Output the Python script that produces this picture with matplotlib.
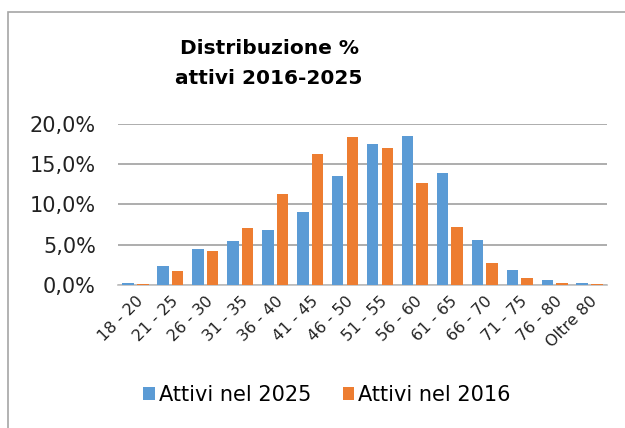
import numpy as np
import matplotlib
matplotlib.use('Agg')
import matplotlib.pyplot as plt
from matplotlib.patches import Rectangle
from matplotlib.ticker import FuncFormatter

# age classes and shares (%)
classi = ['18 - 20', '21 - 25', '26 - 30', '31 - 35', '36 - 40', '41 - 45', '46 - 50',
          '51 - 55', '56 - 60', '61 - 65', '66 - 70', '71 - 75', '76 - 80', 'Oltre 80']
attivi_2025 = [0.25, 2.36, 4.43, 5.42, 6.79, 9.11, 13.5, 17.56, 18.5, 13.9, 5.55, 1.82, 0.58, 0.2]
attivi_2016 = [0.17, 1.74, 4.22, 7.08, 11.26, 16.3, 18.34, 17.0, 12.63, 7.25, 2.69, 0.83, 0.29, 0.08]

blu = '#5B9BD5'
arancio = '#ED7D31'

plt.rcParams['font.family'] = 'DejaVu Sans'

fig = plt.figure(figsize=(6.25, 4.28), dpi=100)
ax = fig.add_axes([118/625, 1 - 285/428, (607 - 118)/625, 161/428])

x = np.arange(len(classi))
w = 0.33
ax.bar(x - 0.21, attivi_2025, w, color=blu, label='Attivi nel 2025', zorder=3)
ax.bar(x + 0.21, attivi_2016, w, color=arancio, label='Attivi nel 2016', zorder=3)

ax.set_xlim(-0.5, len(classi) - 0.5)
ax.set_ylim(0, 20)
ax.set_yticks([0, 5, 10, 15, 20])
ax.yaxis.set_major_formatter(FuncFormatter(lambda v, p: ('%.1f%%' % v).replace('.', ',')))
ax.yaxis.grid(True, color='#A0A0A0', lw=1.2, zorder=0)
ax.set_xticks(x)
ax.set_xticklabels(classi, rotation=45, ha='right', rotation_mode='anchor', fontsize=11.5)
ax.tick_params(axis='y', length=0, pad=16, labelsize=15, labelcolor='#222222')
ax.tick_params(axis='x', length=0, pad=6, labelcolor='#222222')
for s in ['top', 'right', 'left']:
    ax.spines[s].set_visible(False)
ax.spines['bottom'].set_color('#BFBFBF')
ax.spines['bottom'].set_linewidth(1.2)

fig.text(269/625, 1 - 49/428, 'Distribuzione %', ha='center', va='center',
         fontsize=14.5, fontweight='bold')
fig.text(269/625, 1 - 79/428, 'attivi 2016-2025', ha='center', va='center',
         fontsize=14.5, fontweight='bold')

fig.legend(loc='center', bbox_to_anchor=(327/625, 1 - 395/428), ncol=2, frameon=False,
           fontsize=15, handlelength=0.55, handleheight=0.55, handletextpad=0.2,
           columnspacing=1.5)

# outer frame of the chart box
fig.patches.append(Rectangle((8/625, -0.1), 1.2, 1 - 12/428 + 0.1, transform=fig.transFigure,
                             fill=False, edgecolor='#A6A6A6', lw=1.2))

fig.savefig('out.png', dpi=100)
